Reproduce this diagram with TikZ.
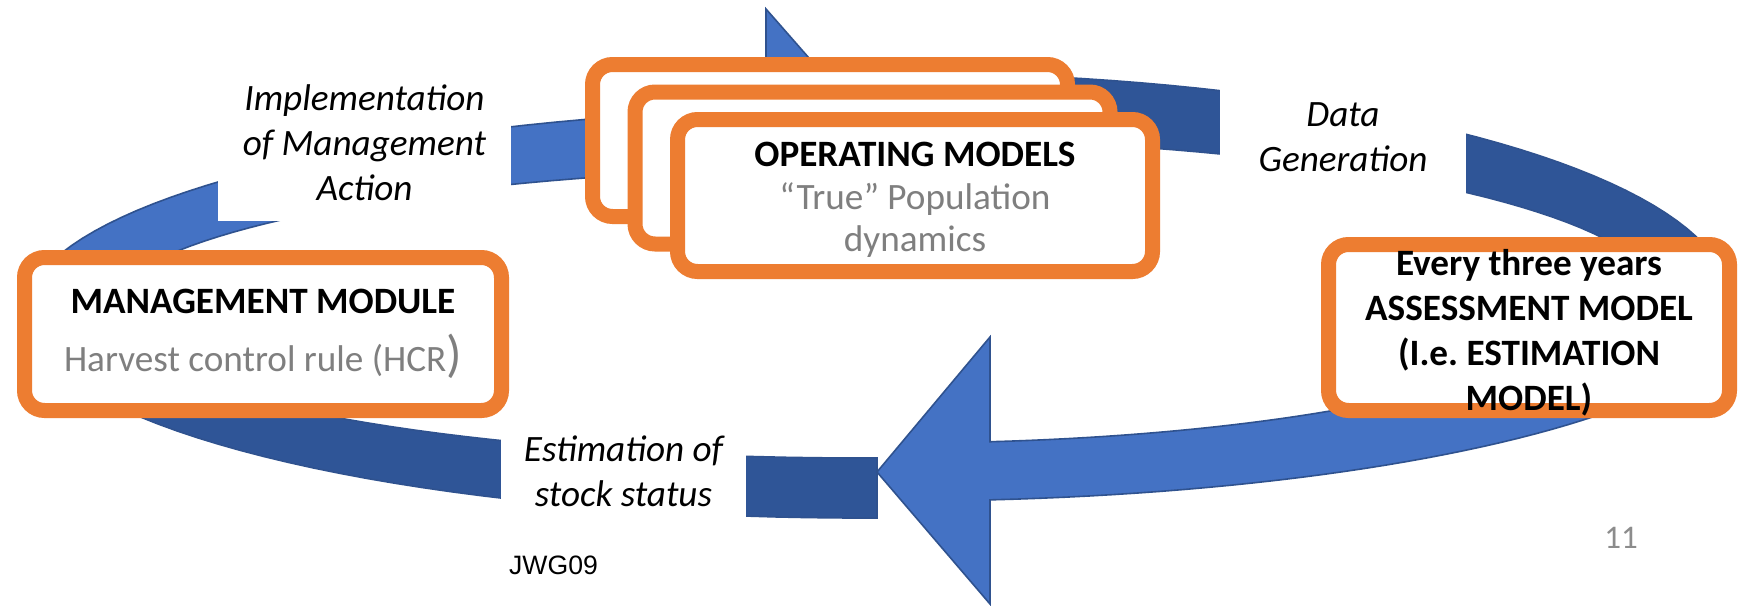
\documentclass[tikz,border=0pt]{standalone}
\usepackage{fontspec}
\setmainfont{Carlito}
\newfontfamily\arialfont{Liberation Sans}

\definecolor{boxorange}{HTML}{ED7D31}
\definecolor{arrowblue}{HTML}{4472C4}
\definecolor{arrowdark}{HTML}{2F5597}
\definecolor{arrowedge}{HTML}{2F528F}
\definecolor{subgray}{HTML}{7F7F7F}
\definecolor{pagegray}{HTML}{8C8C8C}

\newcommand{\loopfont}{\fontsize{18.6}{22.5}\selectfont}

\tikzset{
  modelbox/.style={draw=boxorange, line width=7.5pt, fill=white,
    rounded corners=10pt, inner sep=0pt, align=center, font=\loopfont},
  steplabel/.style={fill=white, inner sep=0pt, align=center,
    font=\loopfont\itshape},
  lightband/.style={fill=arrowblue, draw=arrowedge, line width=0.8pt},
  darkband/.style={fill=arrowdark, draw=arrowedge, line width=0.8pt},
}

\begin{document}
\begin{tikzpicture}[x=0.5pt, y=-0.5pt]
  \useasboundingbox (0,0) rectangle (1749,605);
  \fill[white] (0,0) rectangle (1749,605);

  % left loop, lower (back) part
  \draw[darkband] plot[domain=88.83:180, samples=40] ({860+835*cos(\x)}, {313+205*sin(\x)})
    -- plot[domain=180:88.71, samples=40] ({860+755*cos(\x)}, {313+145*sin(\x)}) -- cycle;
  % left loop, upper part with its head
  \draw[lightband] plot[domain=180:263.54, samples=40] ({860+835*cos(\x)}, {313+205*sin(\x)})
    -- (766,9) -- (880,139) -- (766,269)
    -- plot[domain=262.85:180, samples=40] ({860+755*cos(\x)}, {313+145*sin(\x)}) -- cycle;
  % upper right loop
  \draw[darkband] plot[domain=270:352, samples=40] ({900+830*cos(\x)}, {301+228*sin(\x)})
    -- plot[domain=352:270, samples=40] ({900+763*cos(\x)}, {301+162*sin(\x)}) -- cycle;
  % lower right loop with the big head
  \draw[lightband] plot[domain=18:83.92, samples=40] ({900+850*cos(\x)}, {301+200*sin(\x)})
    -- (990,604) -- (877,472) -- (990,337)
    -- plot[domain=82.39:18, samples=40] ({900+680*cos(\x)}, {301+142*sin(\x)}) -- cycle;

  % step labels (white background cuts the loop)
  \node[steplabel, minimum width=146.5pt, minimum height=78pt] (impl) at (364.5,143)
    {Implementation\\of Management\\Action};
  \node[steplabel, minimum width=123pt, minimum height=58.5pt] (datagen) at (1343,137.5)
    {Data\\Generation};
  \node[steplabel, minimum width=122.5pt, minimum height=51pt] (estim) at (623.5,471)
    {Estimation of\\stock status};

  % stack of operating models
  \node[modelbox, minimum width=237.5pt, minimum height=76pt] (om3) at (830,140.5) {};
  \node[modelbox, minimum width=237.5pt, minimum height=76pt] (om2) at (872.5,168) {};
  \node[modelbox, minimum width=237.5pt, minimum height=76pt] (om1) at (915,195.5) {};
  \node[align=center, inner sep=0pt, font=\fontsize{18.6}{21.25}\selectfont] (omtext) at (915,200)
    {\textbf{OPERATING MODELS}\\\textcolor{subgray}{“True” Population}\\\textcolor{subgray}{dynamics}};

  % management module
  \node[modelbox, minimum width=238.5pt, minimum height=76.5pt] (mgmt) at (263,334)
    {\textbf{MANAGEMENT MODULE}\\[6.5pt]\textcolor{subgray}{Harvest control rule (HCR{\fontsize{25.6}{25.6}\selectfont)}}};

  % assessment model, its text runs over the frame
  \node[modelbox, minimum width=200.5pt, minimum height=83pt] (assess) at (1529,327.5) {};
  \node[align=center, font=\loopfont\bfseries, inner sep=0pt] (assesstext) at (1529,332.5)
    {Every three years\\ASSESSMENT MODEL\\(I.e.\ ESTIMATION\\MODEL)};

  % footer
  \node[font=\arialfont\fontsize{13.3}{16}\selectfont, anchor=base] (jwg) at (553.5,574) {JWG09};
  \node[font=\fontsize{16.5}{20}\selectfont, text=pagegray, anchor=base] (pagenum) at (1621,548) {11};
\end{tikzpicture}
\end{document}
